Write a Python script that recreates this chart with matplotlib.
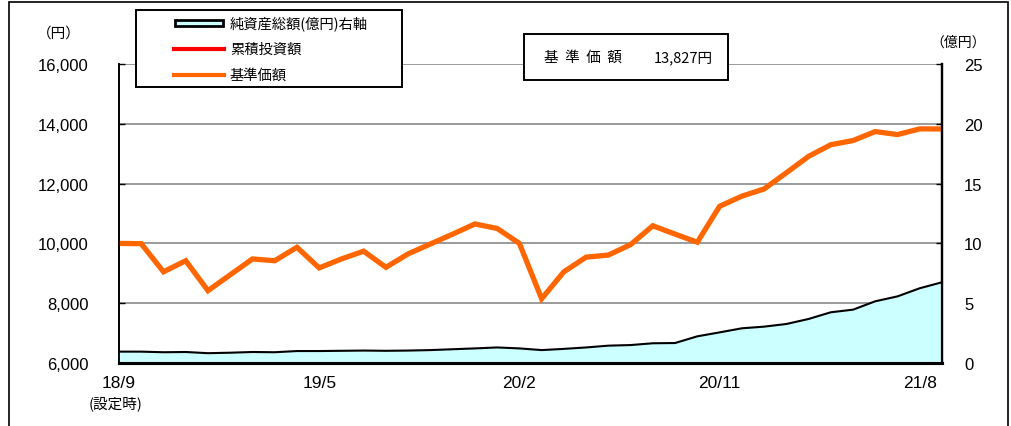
import matplotlib
matplotlib.use('Agg')
import matplotlib.pyplot as plt
from matplotlib.patches import Rectangle
from matplotlib.lines import Line2D

plt.rcParams['font.family'] = ['Noto Sans CJK JP', 'DejaVu Sans']

# 基準価額（円）: 設定時 + 月末 18/9 ～ 21/9
nav = [10000, 9990, 9050, 9420, 8420, 8950, 9480, 9420, 9870, 9180,
       9480, 9740, 9200, 9650, 9980, 10310, 10650, 10500, 10000, 8150,
       9050, 9540, 9610, 9960, 10590, 10310, 10040, 11240, 11580, 11820,
       12360, 12910, 13300, 13440, 13740, 13640, 13830, 13827]

# 純資産総額（億円）
net_assets = [0.95, 0.95, 0.90, 0.92, 0.82, 0.86, 0.92, 0.90, 1.00, 1.00,
              1.02, 1.04, 1.02, 1.04, 1.08, 1.15, 1.22, 1.30, 1.22, 1.08,
              1.18, 1.30, 1.45, 1.50, 1.65, 1.67, 2.23, 2.56, 2.90, 3.04,
              3.26, 3.68, 4.24, 4.46, 5.16, 5.57, 6.25, 6.75]

tick_pos = [0, 9, 18, 27, 36]
tick_labels = ['18/9', '19/5', '20/2', '20/11', '21/8']
left_ticks = [6000, 8000, 10000, 12000, 14000, 16000]
right_ticks = [0, 5, 10, 15, 20, 25]

W, H = 1011, 427
fig = plt.figure(figsize=(W / 100, H / 100), dpi=100)

def fx(px):
    return px / W

def fy(py):
    return 1 - py / H

ax = fig.add_axes([fx(119), fy(364), fx(942) - fx(119), fy(65) - fy(364)])
ax2 = ax.twinx()

x = list(range(len(nav)))

# 目盛線
for v in left_ticks[1:]:
    ax.axhline(v, color='#808080', lw=1.1, zorder=1)

ax.plot(x, nav, color='#FF6600', lw=3.8, solid_joinstyle='miter', zorder=3)

ax2.fill_between(x, 0, net_assets, color='#CCFFFF', lw=0, zorder=2)
ax2.plot(x, net_assets, color='black', lw=1.5, zorder=3)

ax.set_xlim(0, len(nav) - 1)
ax.set_ylim(6000, 16000)
ax2.set_ylim(0, 25)

ax.set_yticks(left_ticks)
ax.set_yticklabels([f'{v:,}' for v in left_ticks], family=['Liberation Sans'], fontsize=12)
ax2.set_yticks(right_ticks)
ax2.set_yticklabels([str(v) for v in right_ticks], family=['Liberation Sans'], fontsize=12)
ax.set_xticks(tick_pos)
ax.set_xticklabels(tick_labels, family=['Liberation Sans'], fontsize=12.5)

ax.tick_params(axis='y', direction='in', length=4, pad=22, width=1)
ax2.tick_params(axis='y', direction='in', length=4, pad=16, width=1)
ax.tick_params(axis='x', direction='in', length=4, pad=9, width=1)

for a in (ax, ax2):
    a.spines['top'].set_visible(False)
    a.spines['left'].set_linewidth(1.2)
    a.spines['right'].set_linewidth(1.6)
    a.spines['bottom'].set_linewidth(2.2)
    a.spines['bottom'].set_zorder(5)

fig.text(fx(116), fy(404), '(設定時)', ha='center', va='center', fontsize=10.5)
fig.text(fx(59), fy(34), '（円）', ha='center', va='center', fontsize=10.5)
fig.text(fx(958), fy(43), '（億円）', ha='center', va='center', fontsize=10)

# 外枠
fig.add_artist(Rectangle((fx(9), -0.1), fx(1008) - fx(9), fy(3) + 0.1,
                         transform=fig.transFigure, fill=False, ec='black', lw=1.2))

# 凡例
fig.add_artist(Rectangle((fx(136), fy(88)), fx(402) - fx(136), fy(11) - fy(88),
                         transform=fig.transFigure, fc='white', ec='black', lw=1.4, zorder=10))
fig.add_artist(Rectangle((fx(175), fy(27)), fx(223) - fx(175), fy(21) - fy(27),
                         transform=fig.transFigure, fc='#CCFFFF', ec='black', lw=2, zorder=11))
fig.add_artist(Line2D([fx(174), fx(224)], [fy(50), fy(50)], transform=fig.transFigure,
                      color='#FF0000', lw=3, zorder=11))
fig.add_artist(Line2D([fx(174), fx(224)], [fy(76), fy(76)], transform=fig.transFigure,
                      color='#FF6600', lw=3, zorder=11))
legend_labels = ['純資産総額(億円)右軸', '累積投資額', '基準価額']
for lbl, py in zip(legend_labels, [24, 50, 76]):
    fig.text(fx(230), fy(py), lbl, ha='left', va='center', fontsize=10.3, zorder=12)

# 基準価額ボックス
fig.add_artist(Rectangle((fx(524), fy(81)), fx(728) - fx(524), fy(35) - fy(81),
                         transform=fig.transFigure, fc='white', ec='black', lw=1.4, zorder=10))
fig.text(fx(583), fy(58), '基  準  価  額', ha='center', va='center', fontsize=10.5, zorder=12)
fig.text(fx(683), fy(58), f'{nav[-1]:,}円', ha='center', va='center', fontsize=10.5, zorder=12)

fig.savefig('out.png', dpi=100)
